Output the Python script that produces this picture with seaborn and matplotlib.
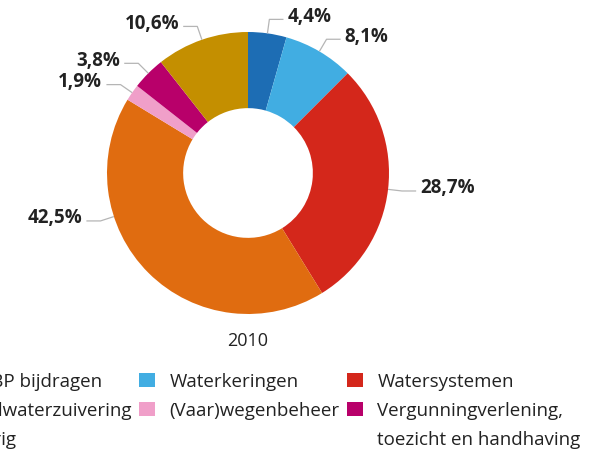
"""
Donut chart: kostenverdeling waterschappen 2010
"""

import numpy as np
import matplotlib
matplotlib.use('Agg')
import matplotlib.pyplot as plt
import seaborn as sns
from matplotlib.patches import Patch

# =============================================================================
# DATA
# =============================================================================
# Wedges, clockwise from 12 o'clock
categories = ['HWBP bijdragen', 'Waterkeringen', 'Watersystemen',
              'Afvalwaterzuivering', '(Vaar)wegenbeheer',
              'Vergunningverlening,\ntoezicht en handhaving', 'Overig']
shares = [4.4, 8.1, 28.7, 42.5, 1.9, 3.8, 10.6]
year_label = '2010'

# Legend columns (top to bottom)
legend_columns = [
    ['HWBP bijdragen', 'Afvalwaterzuivering', 'Overig'],
    ['Waterkeringen', '(Vaar)wegenbeheer'],
    ['Watersystemen', 'Vergunningverlening,\ntoezicht en handhaving'],
]

# =============================================================================
# STYLE
# =============================================================================
sns.set_theme(style='white')
plt.rcParams['font.family'] = ['Open Sans', 'DejaVu Sans']

palette = sns.color_palette(['#1d6db4', '#41ade2', '#d4271b', '#e06c10',
                             '#f09fc9', '#b8006a', '#c48f00'])
colors = dict(zip(categories, palette))
TEXT = '#222222'
LINE = '#b5b5b5'

# label angle tweaks (degrees), only where the original moved a label
label_angle = {'Afvalwaterzuivering': -162}

# =============================================================================
# PLOT
# =============================================================================
fig = plt.figure(figsize=(6.0, 4.52), dpi=100)
ax = fig.add_axes([0, 0, 1, 1])

R = 141.0  # px per unit radius
cx, cy = 248, 174

wedges, _ = ax.pie(shares, colors=[colors[c] for c in categories],
                   startangle=90, counterclock=False, radius=1.0,
                   wedgeprops=dict(width=0.54, linewidth=0))
ax.set_xlim(-cx / R, (600 - cx) / R)
ax.set_ylim(-(452 - cy) / R, cy / R)
ax.set_aspect('equal')
ax.axis('off')

# Percentage labels with bent leader lines
for w, cat, val in zip(wedges, categories, shares):
    ang = label_angle.get(cat, (w.theta1 + w.theta2) / 2)
    rad = np.deg2rad(ang)
    c, s = np.cos(rad), np.sin(rad)
    sign = 1 if c >= 0 else -1
    p0 = np.array([c, s])
    p1 = 1.1 * p0
    p2 = p1 + np.array([sign * 0.1, 0])
    ax.plot([p0[0], p1[0], p2[0]], [p0[1], p1[1], p2[1]],
            color=LINE, linewidth=0.9, solid_capstyle='butt')
    ax.text(p2[0] + sign * 0.03, p2[1] + 0.025, f'{val:.1f}%'.replace('.', ','),
            ha='left' if sign > 0 else 'right', va='center',
            fontsize=13.5, fontweight='bold', color=TEXT)

ax.text(0, -1.185, year_label, ha='center', va='center', fontsize=13, color=TEXT)

# Legend: one row per text line, marker on the first line of a label.
# The left column runs off the canvas, like the original.
handles = []
n_rows = 3
for col in legend_columns:
    rows = []
    for cat in col:
        first, *rest = cat.split('\n')
        rows.append(Patch(facecolor=colors[cat], edgecolor='none', label=first))
        for line in rest:
            rows.append(Patch(facecolor='none', edgecolor='none', label=line))
    while len(rows) < n_rows:
        rows.append(Patch(facecolor='none', edgecolor='none', label=' '))
    handles.extend(rows)

leg = fig.legend(handles=handles, ncol=3, loc='upper right',
                 bbox_to_anchor=(590 / 600, 1 - 364 / 452), frameon=False,
                 fontsize=13.5, handlelength=0.85, handleheight=0.8,
                 handletextpad=0.75, columnspacing=0.42, labelspacing=0.58,
                 borderpad=0, labelcolor=TEXT)

fig.savefig('out.png', dpi=100)
